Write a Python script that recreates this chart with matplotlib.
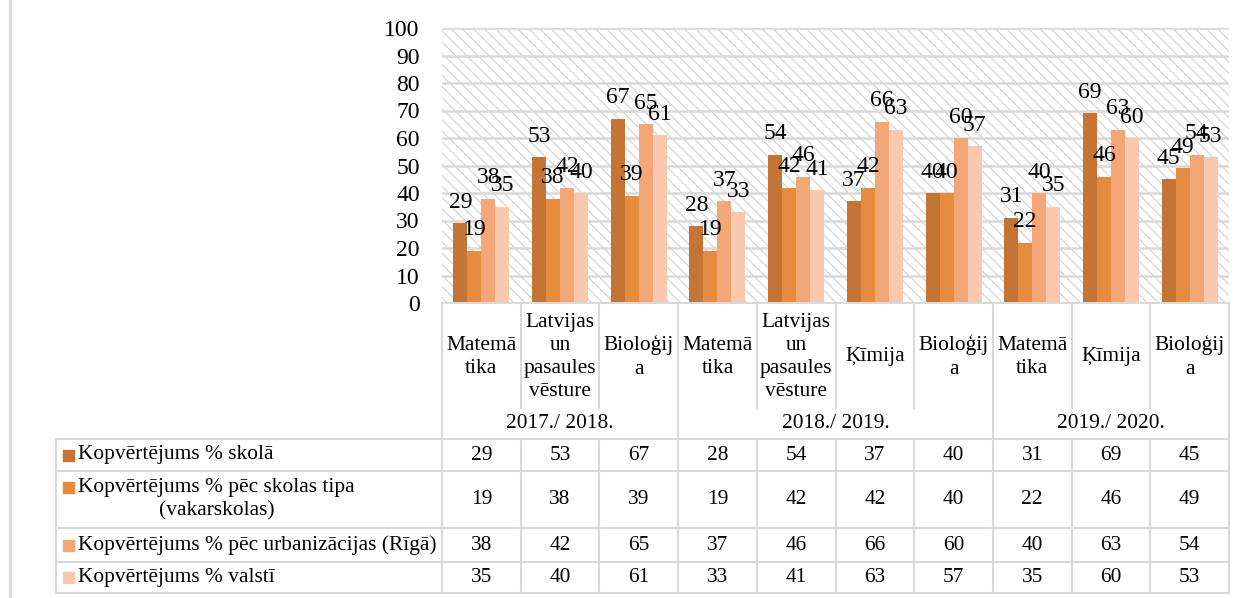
import matplotlib
matplotlib.use("Agg")
import matplotlib.pyplot as plt
import numpy as np
from matplotlib.patches import Rectangle

plt.rcParams["font.family"] = ["Liberation Serif", "DejaVu Serif"]
plt.rcParams["hatch.linewidth"] = 0.8

subjects = ["Matemā\ntika", "Latvijas\nun\npasaules\nvēsture", "Bioloģij\na",
            "Matemā\ntika", "Latvijas\nun\npasaules\nvēsture", "Ķīmija", "Bioloģij\na",
            "Matemā\ntika", "Ķīmija", "Bioloģij\na"]
years = ["2017./ 2018.", "2018./ 2019.", "2019./ 2020."]
year_span = [3, 4, 3]
series_names = ["Kopvērtējums % skolā",
                "Kopvērtējums % pēc skolas tipa\n(vakarskolas)",
                "Kopvērtējums % pēc urbanizācijas (Rīgā)",
                "Kopvērtējums % valstī"]
skola = [29, 53, 67, 28, 54, 37, 40, 31, 69, 45]
tips = [19, 38, 39, 19, 42, 42, 40, 22, 46, 49]
riga = [38, 42, 65, 37, 46, 66, 60, 40, 63, 54]
valsts = [35, 40, 61, 33, 41, 63, 57, 35, 60, 53]
series = [skola, tips, riga, valsts]
colors = ["#C47434", "#E68C41", "#F4A776", "#F8C8AF"]

# figure geometry in pixels (top-down)
W, H = 1242, 598
L, R, T, B = 442, 1229, 28, 303
grid_c = "#D9D9D9"
fs_chart = 17
fs_tab = 15.4

fig = plt.figure(figsize=(W / 100, H / 100), dpi=100)
ax = fig.add_axes([L / W, 1 - B / H, (R - L) / W, (B - T) / H])

n = len(subjects)
x = np.arange(n)
bw = 0.178
for k, (vals, c) in enumerate(zip(series, colors)):
    xs = x + (k - 1.5) * bw
    ax.bar(xs, vals, width=bw, color=c, zorder=2)
    for xi, v in zip(xs, vals):
        ax.annotate(str(v), (xi, v), xytext=(0, 11), textcoords="offset points",
                    ha="center", va="baseline", fontsize=fs_chart,
                    annotation_clip=False, zorder=3)

ax.add_patch(Rectangle((0, 0), 1, 1, transform=ax.transAxes, facecolor="white",
                       edgecolor="#D0D0D0", hatch="\\\\\\", lw=0, zorder=0))
ax.set_xlim(-0.5, n - 0.5)
ax.set_ylim(0, 100)
ax.set_yticks(np.arange(0, 101, 10))
ax.set_xticks([])
ax.yaxis.grid(True, color=grid_c, lw=1.8, zorder=1)
ax.set_axisbelow(True)
ax.tick_params(axis="y", length=0, pad=16, labelsize=fs_chart)
for s in ax.spines.values():
    s.set_visible(False)

# data table drawn in pixel coordinates
tab = fig.add_axes([0, 0, 1, 1])
tab.set_xlim(0, W)
tab.set_ylim(H, 0)
tab.axis("off")
tab.patch.set_visible(False)

lw = 1.5
cw = (R - L) / n
edges = L + cw * np.arange(n + 1)
group_idx = np.concatenate([[0], np.cumsum(year_span)])
rows = [439, 471, 528, 562, 593]

tab.plot([10, 10], [0, H], color=grid_c, lw=2)
tab.plot([L, R], [B, B], color=grid_c, lw=lw)
for i, e in enumerate(edges):
    if i in group_idx:
        tab.plot([e, e], [B, rows[-1]], color=grid_c, lw=lw)
    else:
        tab.plot([e, e], [B, 408], color=grid_c, lw=lw)
        tab.plot([e, e], [rows[0], rows[-1]], color=grid_c, lw=lw)
for y in rows:
    tab.plot([56, R], [y, y], color=grid_c, lw=lw)
tab.plot([56, 56], [rows[0], rows[-1]], color=grid_c, lw=lw)

for i, s in enumerate(subjects):
    tab.text((edges[i] + edges[i + 1]) / 2, 357, s, ha="center", va="center",
             multialignment="center", linespacing=1.3, fontsize=fs_tab)
for g, yl in enumerate(years):
    cx = (edges[group_idx[g]] + edges[group_idx[g + 1]]) / 2
    tab.text(cx, 423, yl, ha="center", va="center", fontsize=fs_tab)

for r, (name, vals, c) in enumerate(zip(series_names, series, colors)):
    yc = (rows[r] + rows[r + 1]) / 2
    sq_y = yc - 12 if "\n" in name else yc
    tab.add_patch(Rectangle((63, sq_y - 5.5), 11, 11, color=c))
    tab.text(78, yc, name, ha="left", va="center", multialignment="center",
             linespacing=1.3, fontsize=fs_tab)
    for i, v in enumerate(vals):
        tab.text((edges[i] + edges[i + 1]) / 2, yc, str(v), ha="center",
                 va="center", fontsize=fs_tab)

fig.savefig("out.png", dpi=100)
